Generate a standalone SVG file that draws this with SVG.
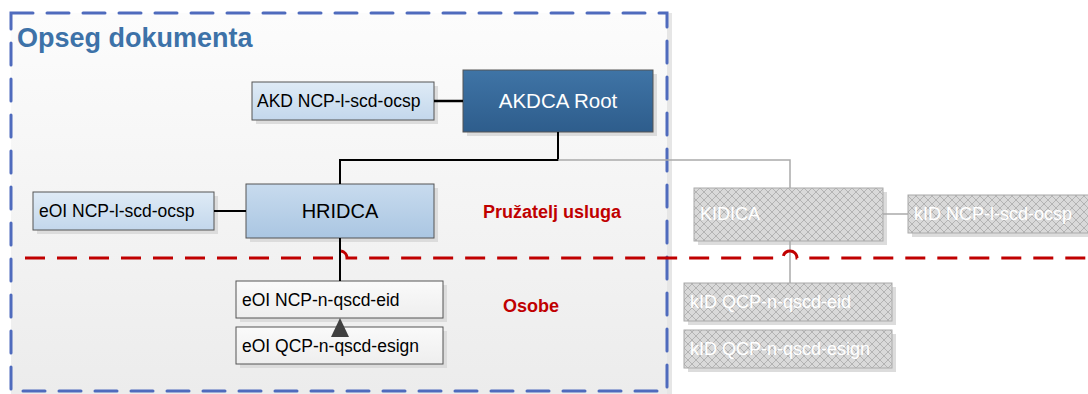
<svg xmlns="http://www.w3.org/2000/svg" width="1088" height="394" viewBox="0 0 1088 394">
<defs>
<linearGradient id="bg" x1="0" y1="0" x2="0" y2="1"><stop offset="0" stop-color="#fcfcfc"/><stop offset="1" stop-color="#ececec"/></linearGradient>
<linearGradient id="lb" x1="0" y1="0" x2="0" y2="1"><stop offset="0" stop-color="#dfebf6"/><stop offset="1" stop-color="#c3d7ec"/></linearGradient>
<linearGradient id="hb" x1="0" y1="0" x2="0" y2="1"><stop offset="0" stop-color="#c8dbee"/><stop offset="1" stop-color="#aac6e2"/></linearGradient>
<linearGradient id="db" x1="0" y1="0" x2="0" y2="1"><stop offset="0" stop-color="#3f74a6"/><stop offset="1" stop-color="#2e5d8c"/></linearGradient>
<linearGradient id="wb" x1="0" y1="0" x2="0" y2="1"><stop offset="0" stop-color="#fafafa"/><stop offset="1" stop-color="#eeeeee"/></linearGradient>
<pattern id="hatch" width="8" height="8" patternUnits="userSpaceOnUse">
<rect width="8" height="8" fill="#d9d9d9"/>
<path d="M0 0L8 8M8 0L0 8" stroke="#b3b3b3" stroke-width="1"/>
</pattern>
<marker id="tri" markerWidth="18" markerHeight="20" refX="9" refY="0" orient="0" markerUnits="userSpaceOnUse" viewBox="0 0 18 20">
<path d="M0 19L9 0L18 19Z" fill="#404040"/>
</marker>
<style>
.t{font-family:"Liberation Sans",Arial,sans-serif;font-size:17.5px;fill:#000}
.w{font-family:"Liberation Sans",Arial,sans-serif;font-size:18px;fill:#ffffff}
.sh{fill:#dcdcdc}
.bx{stroke:#555;stroke-width:1}
.gx{fill:url(#hatch);stroke:#aaaaaa;stroke-width:1}
.red{font-family:"Liberation Sans",Arial,sans-serif;font-weight:bold;font-size:18px;fill:#c00000}
</style>
</defs>
<rect width="1088" height="394" fill="#ffffff"/>
<rect x="667" y="13" width="5" height="381" fill="#e6e6e6"/>
<rect x="11" y="13" width="656" height="381" fill="url(#bg)"/>
<rect x="11" y="13" width="656" height="378" fill="none" stroke="#4f6bbd" stroke-width="3" stroke-dasharray="22,14" stroke-linecap="round"/>
<text x="17" y="47" font-family="'Liberation Sans',Arial,sans-serif" font-weight="bold" font-size="27" fill="#3d72a8">Opseg dokumenta</text>
<text class="red" x="483" y="218">Pružatelj usluga</text>
<text class="red" x="503" y="312">Osobe</text>

<g id="akd-ncp">
<rect class="sh" x="256" y="86" width="182" height="38"/>
<rect class="bx" x="252" y="82" width="182" height="38" fill="url(#lb)"/>
<text class="t" x="257" y="107">AKD NCP-l-scd-ocsp</text>
</g>
<g id="akdca-root">
<rect class="sh" x="467" y="74" width="190" height="62"/>
<rect class="bx" x="463" y="70" width="190" height="62" fill="url(#db)" stroke="#2b4a6a"/>
<text x="558" y="108" text-anchor="middle" font-family="'Liberation Sans',Arial,sans-serif" font-size="20.5" fill="#fff">AKDCA Root</text>
</g>
<g id="hridca">
<rect class="sh" x="250" y="188" width="188" height="54"/>
<rect class="bx" x="246" y="184" width="188" height="54" fill="url(#hb)"/>
<text x="340" y="218" text-anchor="middle" font-family="'Liberation Sans',Arial,sans-serif" font-size="20" fill="#000">HRIDCA</text>
</g>
<g id="eoi-ncp-l">
<rect class="sh" x="37" y="196" width="181" height="38"/>
<rect class="bx" x="33" y="192" width="181" height="38" fill="url(#lb)"/>
<text class="t" x="39" y="217">eOI NCP-l-scd-ocsp</text>
</g>
<g id="eoi-ncp-n">
<rect class="sh" x="240" y="285" width="207" height="37"/>
<rect class="bx" x="236" y="281" width="207" height="37" fill="url(#wb)"/>
<text class="t" x="242" y="306">eOI NCP-n-qscd-eid</text>
</g>
<g id="eoi-qcp-n">
<rect class="sh" x="240" y="331" width="207" height="37"/>
<rect class="bx" x="236" y="327" width="207" height="37" fill="url(#wb)"/>
<text class="t" x="242" y="352">eOI QCP-n-qscd-esign</text>
</g>
<g id="kidica">
<rect class="sh" x="698" y="192" width="189" height="53"/>
<rect class="gx" x="694" y="188" width="189" height="53"/>
<text class="w" x="700" y="220" font-size="17">KIDICA</text>
</g>
<g id="kid-ncp-l">
<rect class="sh" x="912" y="199" width="180" height="38"/>
<rect class="gx" x="908" y="195" width="184" height="38"/>
<text class="w" x="914" y="220">kID NCP-l-scd-ocsp</text>
</g>
<g id="kid-qcp-eid">
<rect class="sh" x="688" y="287" width="208" height="38"/>
<rect class="gx" x="684" y="283" width="208" height="38"/>
<text class="w" x="690" y="308">kID QCP-n-qscd-eid</text>
</g>
<g id="kid-qcp-esign">
<rect class="sh" x="688" y="334" width="208" height="38"/>
<rect class="gx" x="684" y="330" width="208" height="38"/>
<text class="w" x="690" y="355">kID QCP-n-qscd-esign</text>
</g>

<g id="connectors" fill="none">
<path d="M434 101H463" stroke="#000" stroke-width="2.5"/>
<path d="M558 132V160H340V184" stroke="#000" stroke-width="2"/>
<path d="M558 160H790V188" stroke="#aaaaaa" stroke-width="1.5"/>
<path d="M214 211H246" stroke="#000" stroke-width="2"/>
<path d="M340 238V281" stroke="#000" stroke-width="2"/>
<path d="M883 214H908" stroke="#aaaaaa" stroke-width="1.5"/>
<path d="M790 241V283" stroke="#aaaaaa" stroke-width="1.5"/>
<path d="M340 327V318" stroke="none" marker-end="url(#tri)"/>
<path d="M25 258H333 A7 7 0 0 1 347 258 H783 A7 7 0 0 1 797 258 H1088" stroke="#c00000" stroke-width="3" stroke-dasharray="20,12"/>
</g>
</svg>
